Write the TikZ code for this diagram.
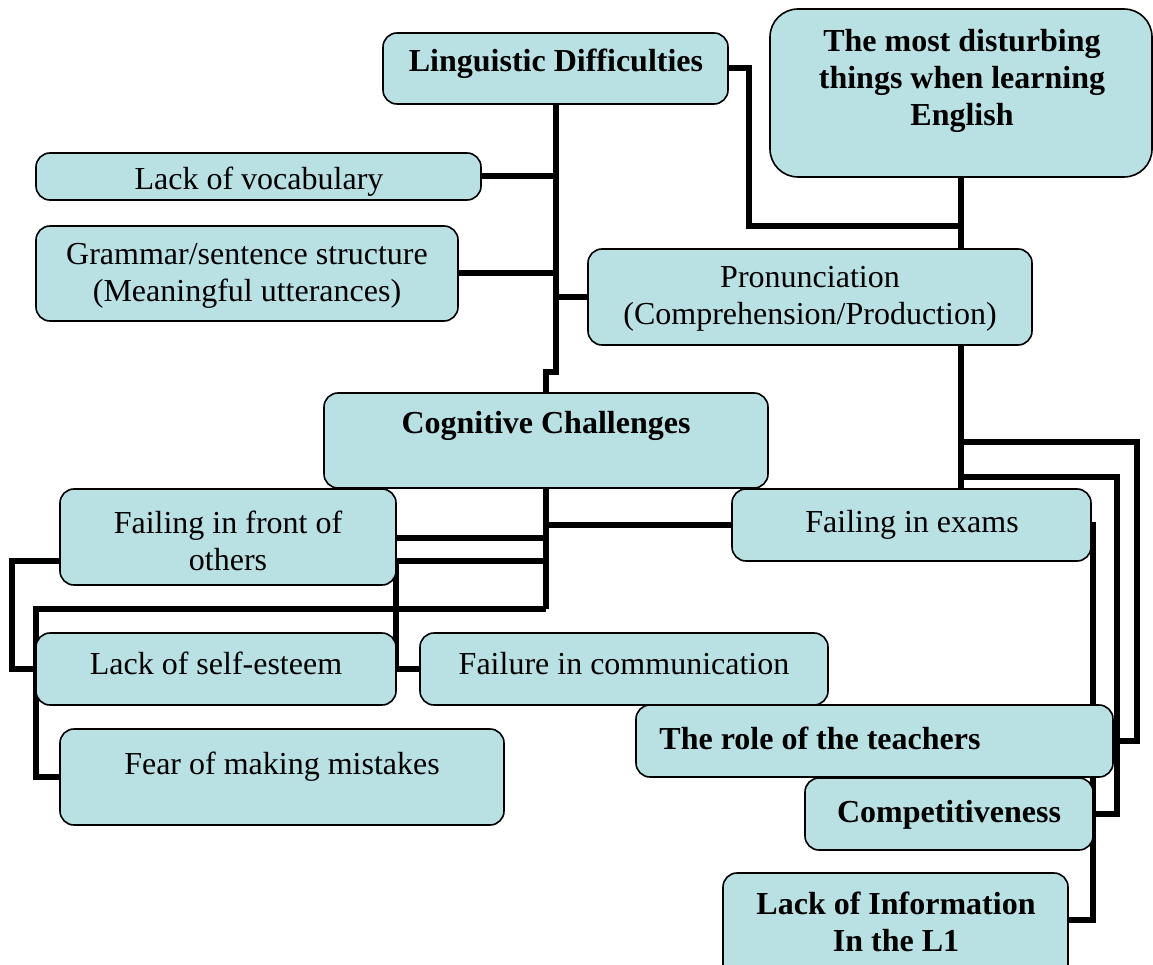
\documentclass[tikz,border=0pt]{standalone}
\usepackage{fontspec}
\setmainfont{Liberation Serif}
\usetikzlibrary{backgrounds}
\definecolor{boxfill}{RGB}{185,224,227}
\begin{document}
\begin{tikzpicture}[x=1pt,y=-1pt,
  box/.style={draw=black, line width=1.6pt, fill=boxfill, rounded corners=14pt, inner sep=0pt, outer sep=0pt},
  conn/.style={draw=black, line width=6pt},
  txt/.style={font=\fontsize{32}{37}\selectfont, align=center, inner sep=0pt},
  btxt/.style={font=\fontsize{32}{37}\selectfont\bfseries, align=center, inner sep=0pt}]
\clip (0,0) rectangle (1153,965);
% boxes
\node[box, minimum width=345pt, minimum height=71pt] (ld) at (555.5,68.5) {};
\node[box, rounded corners=28pt, minimum width=382pt, minimum height=168pt] (top) at (961,93) {};
\node[box, minimum width=445pt, minimum height=47pt] (voc) at (258.5,176.5) {};
\node[box, minimum width=422pt, minimum height=95pt] (gram) at (247,273.5) {};
\node[box, minimum width=444pt, minimum height=96pt] (pron) at (810,297) {};
\node[box, minimum width=444pt, minimum height=95pt] (cog) at (546,440.5) {};
\node[box, minimum width=336pt, minimum height=96pt] (fof) at (228,537) {};
\node[box, minimum width=359pt, minimum height=72pt] (exam) at (911.5,525) {};
\node[box, minimum width=360pt, minimum height=72pt] (self) at (216,669) {};
\node[box, minimum width=408pt, minimum height=72pt] (comm) at (624,669) {};
\node[box, minimum width=444pt, minimum height=96pt] (fear) at (282,777) {};
\node[box, minimum width=477pt, minimum height=72pt] (role) at (874.5,741) {};
\node[box, minimum width=288pt, minimum height=72pt] (compet) at (949,814) {};
\node[box, minimum width=345pt, minimum height=112pt] (info) at (895.5,929) {};
% texts
\node[btxt, anchor=base] (tld) at (556,72) {Linguistic Difficulties};
\node[btxt] (ttop) at (962,81) {The most disturbing\\things when learning\\English};
\node[txt, anchor=base] (tvoc) at (259,190) {Lack of vocabulary};
\node[txt] (tgram) at (247,276) {Grammar/sentence structure\\(Meaningful utterances)};
\node[txt] (tpron) at (810,298.5) {Pronunciation\\(Comprehension/Production)};
\node[btxt, anchor=base] (tcog) at (546,433) {Cognitive Challenges};
\node[txt] (tfof) at (228,541) {Failing in front of\\others};
\node[txt, anchor=base] (texam) at (912,532) {Failing in exams};
\node[txt, anchor=base] (tself) at (216,674) {Lack of self-esteem};
\node[txt, anchor=base] (tcomm) at (624,674) {Failure in communication};
\node[txt, anchor=base] (tfear) at (282,774) {Fear of making mistakes};
\node[btxt, anchor=base] (trole) at (820,749) {The role of the teachers};
\node[btxt, anchor=base] (tcompet) at (949,822) {Competitiveness};
\node[btxt] (tinfo) at (896,922) {Lack of Information\\In the L1};
% junction coordinates
\coordinate (j1) at (961,226);
\coordinate (jout) at (961,442);
\coordinate (jmid) at (961,477);
\coordinate (cfoot) at (546,609);
\coordinate (f1) at (396,538);
\coordinate (f2) at (396,561);
\coordinate (infoin) at (1066,920);
\begin{scope}[on background layer]
% top level
\draw[conn] (top.south) -- (top.south |- pron.north);
\draw[conn] (ld.east) -- ++(21,0) |- (j1);
% linguistic branch
\draw[conn] (ld.south) -- ++(0,268) -| (cog.north);
\draw[conn] (voc.east) -- (voc.east -| ld.south);
\draw[conn] (gram.east) -- (gram.east -| ld.south);
\draw[conn] (pron.west -| ld.south) -- (pron.west);
% pronunciation to right cluster
\draw[conn] (pron.south -| top.south) -- (exam.north -| top.south);
\draw[conn] (jout) -- ++(176,0) |- (role.east);
\draw[conn] (jmid) -- ++(156,0) |- (compet.east);
\draw[conn] (exam.east) -- ++(2,0) |- (infoin);
% cognitive branch
\draw[conn] (cog.south) -- (cfoot);
\draw[conn] (cog.south |- exam.west) -- (exam.west);
\draw[conn] (f1) -- (f1 -| cog.south);
\draw[conn] (f2) -- (f2 -| cog.south);
\draw[conn] (cfoot) -| (self.west |- fear.west) -- (fear.west);
\draw[conn] (fof.west |- f2) -- ++(-48,0) |- (self.west);
\draw[conn] (f2) |- (comm.west);
\end{scope}
\end{tikzpicture}
\end{document}
